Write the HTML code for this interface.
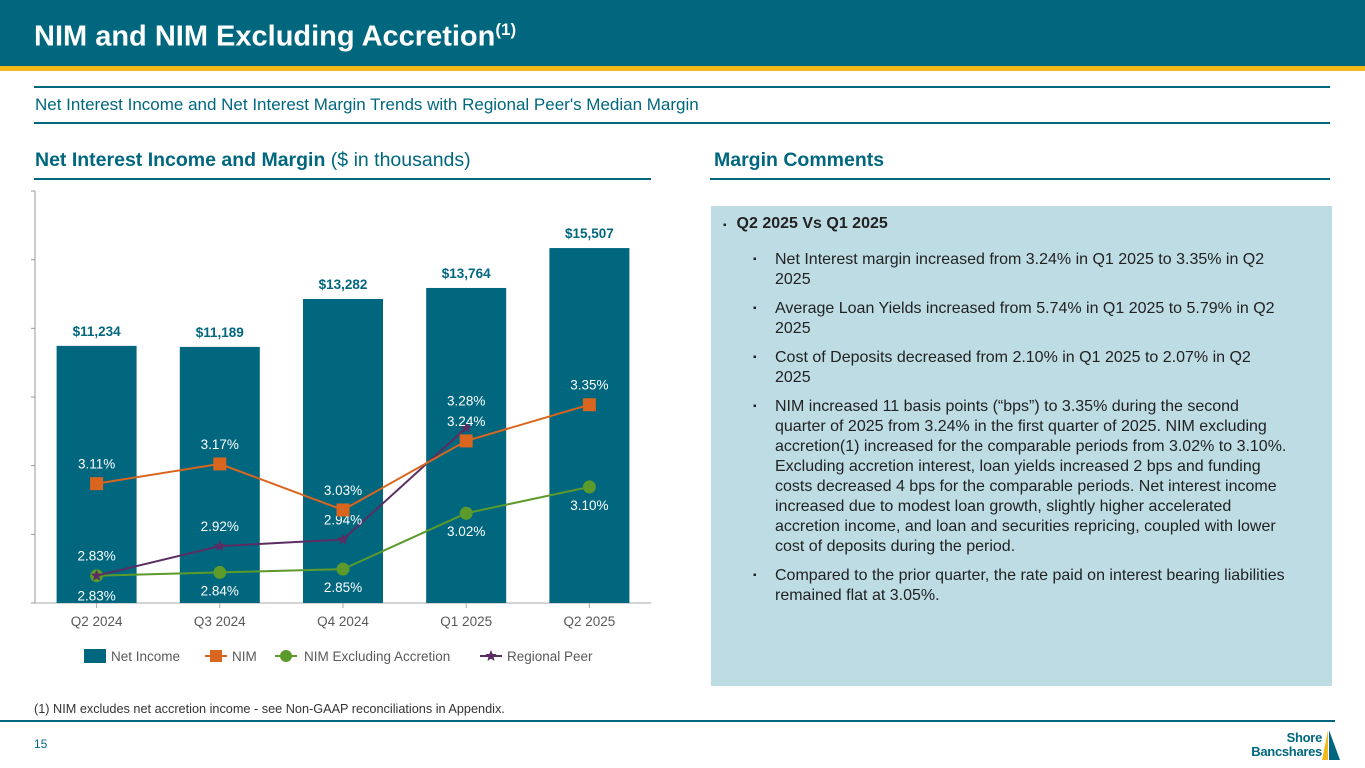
<!DOCTYPE html>
<html><head><meta charset="utf-8"><style>
*{margin:0;padding:0;box-sizing:border-box}
body{width:1365px;height:768px;position:relative;background:#fff;font-family:"Liberation Sans",Arial,sans-serif;overflow:hidden}
.abs{position:absolute}
.item{position:relative;margin-bottom:9px}
.item span{position:absolute;left:-22px;font-size:10px}
</style></head><body>
<div class="abs" style="left:0;top:0;width:1365px;height:66px;background:#00677f"></div>
<div class="abs" style="left:0;top:66px;width:1365px;height:5px;background:#f2b81c"></div>
<div class="abs" style="left:34px;top:20px;color:#fff;font-size:29px;font-weight:bold">NIM and NIM Excluding Accretion<sup style="font-size:17px">(1)</sup></div>
<div class="abs" style="left:34px;top:86px;width:1296px;height:2px;background:#00677f"></div>
<div class="abs" style="left:35px;top:95px;font-size:17px;color:#00677f">Net Interest Income and Net Interest Margin Trends with Regional Peer's Median Margin</div>
<div class="abs" style="left:34px;top:122px;width:1296px;height:2px;background:#00677f"></div>
<div class="abs" style="left:35px;top:149px;font-size:19.5px;color:#00677f"><b>Net Interest Income and Margin</b> ($ in thousands)</div>
<div class="abs" style="left:34px;top:178px;width:617px;height:2px;background:#00677f"></div>
<div class="abs" style="left:714px;top:149px;font-size:19.5px;color:#00677f;font-weight:bold">Margin Comments</div>
<div class="abs" style="left:710px;top:178px;width:620px;height:2px;background:#00677f"></div>
<div class="abs" style="left:711px;top:206px;width:621px;height:480px;background:#bddce4;color:#222;font-size:16px;line-height:20px">
<div class="abs" style="left:12px;top:8px;font-weight:bold"><span style="font-size:10px;margin-right:10px">▪</span>Q2 2025 Vs Q1 2025</div>
<div class="abs" style="left:64px;top:44px;width:513px">
<div class="item"><span>▪</span>Net Interest margin increased from 3.24% in Q1 2025 to 3.35% in Q2 2025</div>
<div class="item"><span>▪</span>Average Loan Yields increased from 5.74% in Q1 2025 to 5.79% in Q2 2025</div>
<div class="item"><span>▪</span>Cost of Deposits decreased from 2.10% in Q1 2025 to 2.07% in Q2 2025</div>
<div class="item"><span>▪</span>NIM increased 11 basis points (“bps”) to 3.35% during the second quarter of 2025 from 3.24% in the first quarter of 2025. NIM excluding accretion(1) increased for the comparable periods from 3.02% to 3.10%. Excluding accretion interest, loan yields increased 2 bps and funding costs decreased 4 bps for the comparable periods. Net interest income increased due to modest loan growth, slightly higher accelerated accretion income, and loan and securities repricing, coupled with lower cost of deposits during the period.</div>
<div class="item"><span>▪</span>Compared to the prior quarter, the rate paid on interest bearing liabilities remained flat at 3.05%.</div>
</div></div>
<div class="abs" style="left:34px;top:702px;font-size:12.7px;color:#333">(1) NIM excludes net accretion income - see Non-GAAP reconciliations in Appendix.</div>
<div class="abs" style="left:0;top:720px;width:1335px;height:2px;background:#00677f"></div>
<div class="abs" style="left:34px;top:737px;font-size:12px;color:#00677f">15</div>
<div class="abs" style="left:1250px;top:728px;width:115px;height:36px">
<div class="abs" style="left:0;top:3px;width:72px;text-align:right;font-size:13px;font-weight:bold;color:#00677f;line-height:14px;letter-spacing:-0.3px">Shore<br>Bancshares</div>
<svg class="abs" style="left:70px;top:0" width="22" height="34"><polygon points="8,2 8,32 2,32" fill="#f2b81c"/><polygon points="9,2 20,32 9,32" fill="#00677f"/></svg></div>
<svg class="abs" style="left:0;top:0" width="1365" height="768" id="chart"></svg>
<script>
const categories=["Q2 2024","Q3 2024","Q4 2024","Q1 2025","Q2 2025"];
const netIncome=[11234,11189,13282,13764,15507];
const nim=[3.11,3.17,3.03,3.24,3.35];
const nimExcl=[2.83,2.84,2.85,3.02,3.10];
const peer=[2.83,2.92,2.94,3.28,null];
const barMax=18000, barStep=3000;
const pctMin=2.747, pctMax=4.0;
const svg=document.getElementById('chart');const NS='http://www.w3.org/2000/svg';
const X0=35,X1=651,Y0=603,Y1=191;
const bw=(X1-X0)/categories.length;
const xs=i=>X0+bw*(i+0.5);
const yb=v=>Y0-(v/barMax)*(Y0-Y1);
const yp=v=>Y0-(v-pctMin)/(pctMax-pctMin)*(Y0-Y1);
function mk(t,a,p){const e=document.createElementNS(NS,t);for(const k in a)e.setAttribute(k,a[k]);(p||svg).appendChild(e);return e;}
function txt(x,y,s,a){const e=mk('text',Object.assign({x:x,y:y,'text-anchor':'middle','font-family':'Liberation Sans, Arial, sans-serif','font-size':13.5},a));e.textContent=s;return e;}
const ax=mk('line',{x1:X0,y1:Y1,x2:X0,y2:Y0,stroke:'#999'});

for(let v=0;v<=barMax;v+=barStep){const t=mk('line',{x1:X0-4,x2:X0,y1:yb(v),y2:yb(v),stroke:'#999'});
}
const xa=mk('line',{x1:X0,y1:Y0,x2:X1,y2:Y0,stroke:'#aaa'});

categories.forEach((c,i)=>{
const r=mk('rect',{x:xs(i)-40,y:yb(netIncome[i]),width:80,height:Y0-yb(netIncome[i]),fill:'#00677f'});

const l=txt(xs(i),yb(netIncome[i])-10,'$'+netIncome[i].toLocaleString('en-US'),{fill:'#00677f','font-weight':'bold'});

mk('line',{x1:xs(i),x2:xs(i),y1:Y0,y2:Y0+5,stroke:'#aaa'});
const xl=txt(xs(i),Y0+23,c,{fill:'#595959'});

});
function series(vals,color,name){
const pts=vals.map((v,i)=>v==null?null:[xs(i),yp(v)]).filter(p=>p);
const pl=mk('polyline',{points:pts.map(p=>p.join(',')).join(' '),fill:'none',stroke:color,'stroke-width':2});
return pts;}
function star(x,y,r,color){const p=[];for(let k=0;k<10;k++){const a=-Math.PI/2+k*Math.PI/5,rr=k%2?r*0.45:r;p.push((x+rr*Math.cos(a))+','+(y+rr*Math.sin(a)));}
const s=mk('polygon',{points:p.join(' '),fill:color});}
series(nimExcl,'#5b9a2b','nim-excl');
nimExcl.forEach((v,i)=>{const c=mk('circle',{cx:xs(i),cy:yp(v),r:6.5,fill:'#5b9a2b'});

const l=txt(xs(i),yp(v)+(i==0?25:23),v.toFixed(2)+'%',{fill:'#fff'});});
series(peer,'#5b2d62','peer');
const peerOff=[-15,-15,-15,-22,0];
peer.forEach((v,i)=>{if(v==null)return;star(xs(i),yp(v),6,'#5b2d62');
const l=txt(xs(i),yp(v)+peerOff[i],v.toFixed(2)+'%',{fill:'#fff'});
});
series(nim,'#d9651e','nim');
nim.forEach((v,i)=>{const r=mk('rect',{x:xs(i)-6.5,y:yp(v)-6.5,width:13,height:13,fill:'#d9651e'});

const l=txt(xs(i),yp(v)-15,v.toFixed(2)+'%',{fill:'#fff'});});
const lg=mk('g',{});
mk('rect',{x:84,y:649,width:22,height:14,fill:'#00677f'},lg);txt(111,661,'Net Income',{fill:'#595959','text-anchor':'start'});
mk('line',{x1:205,x2:227,y1:656,y2:656,stroke:'#d9651e','stroke-width':2},lg);mk('rect',{x:210,y:650,width:12,height:12,fill:'#d9651e'},lg);
txt(232,661,'NIM',{fill:'#595959','text-anchor':'start'});
mk('line',{x1:275,x2:297,y1:656,y2:656,stroke:'#5b9a2b','stroke-width':2},lg);mk('circle',{cx:286,cy:656,r:6,fill:'#5b9a2b'},lg);
txt(304,661,'NIM Excluding Accretion',{fill:'#595959','text-anchor':'start'});
mk('line',{x1:480,x2:502,y1:656,y2:656,stroke:'#5b2d62','stroke-width':2},lg);star(491,656,6,'#5b2d62');
txt(507,661,'Regional Peer',{fill:'#595959','text-anchor':'start'});
</script>
</body></html>
